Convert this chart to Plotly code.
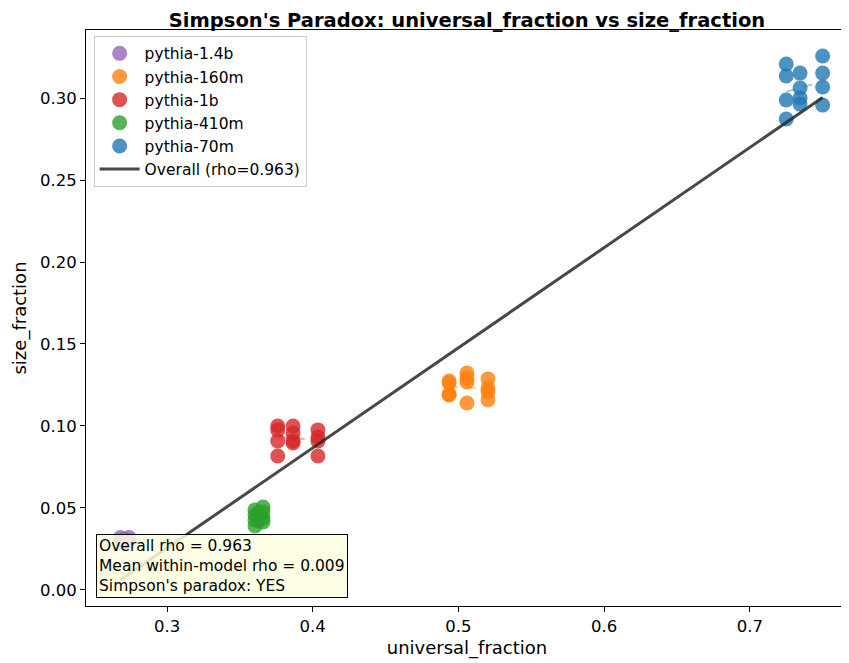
import numpy as np
import plotly.graph_objects as go

models = ["pythia-1.4b", "pythia-160m", "pythia-1b", "pythia-410m", "pythia-70m"]
colors = ["#9467bd", "#ff7f0e", "#d62728", "#2ca02c", "#1f77b4"]

x_14b = [0.268, 0.268, 0.268, 0.271, 0.271, 0.271, 0.274, 0.274, 0.274]
y_14b = [0.032, 0.030, 0.029, 0.031, 0.030, 0.029, 0.032, 0.030, 0.029]

x_160m = [0.4936, 0.4936, 0.4936, 0.4936, 0.5059, 0.5059, 0.5059, 0.5059, 0.5203, 0.5203, 0.5203, 0.5203]
y_160m = [0.1274, 0.1262, 0.1195, 0.1189, 0.1323, 0.1293, 0.1268, 0.1140, 0.1287, 0.1232, 0.1207, 0.1159]

x_1b = [0.376, 0.376, 0.376, 0.376, 0.3865, 0.3865, 0.3865, 0.3865, 0.4036, 0.4036, 0.4036, 0.4036]
y_1b = [0.1000, 0.0976, 0.0909, 0.0817, 0.1000, 0.0957, 0.0909, 0.0896, 0.0976, 0.0933, 0.0909, 0.0817]

x_410m = [0.3604, 0.3604, 0.3604, 0.3604, 0.3630, 0.3630, 0.3659, 0.3659, 0.3659, 0.3659]
y_410m = [0.0488, 0.0457, 0.0427, 0.0390, 0.0470, 0.0420, 0.0506, 0.0476, 0.0439, 0.0415]

x_70m = [0.725, 0.725, 0.725, 0.725, 0.7345, 0.7345, 0.7345, 0.7345, 0.750, 0.750, 0.750, 0.750]
y_70m = [0.3207, 0.3134, 0.2988, 0.2872, 0.3152, 0.3061, 0.3000, 0.2963, 0.3256, 0.3152, 0.3067, 0.2957]

xs = [x_14b, x_160m, x_1b, x_410m, x_70m]
ys = [y_14b, y_160m, y_1b, y_410m, y_70m]

annotation_lines = ["Overall rho = 0.963", "Mean within-model rho = 0.009", "Simpson's paradox: YES"]
overall_label = "Overall (rho=0.963)"

def rgba(hexc, a):
    h = hexc.lstrip("#")
    return f"rgba({int(h[0:2],16)},{int(h[2:4],16)},{int(h[4:6],16)},{a})"

fig = go.Figure()

# within-model fits (faint dashed)
for m, c, x, y in zip(models, colors, xs, ys):
    b, a = np.polyfit(x, y, 1)
    xx = np.array([min(x), max(x)])
    fig.add_trace(go.Scatter(x=xx, y=a + b * xx, mode="lines",
                             line=dict(color=rgba(c, 0.4), width=2, dash="dash"),
                             showlegend=False, hoverinfo="skip"))

for m, c, x, y in zip(models, colors, xs, ys):
    fig.add_trace(go.Scatter(x=x, y=y, mode="markers", name=m,
                             marker=dict(color=rgba(c, 0.8), size=15, line=dict(width=0))))

allx = np.concatenate([np.array(v) for v in xs])
ally = np.concatenate([np.array(v) for v in ys])
b, a = np.polyfit(allx, ally, 1)
lx = np.array([allx.min(), allx.max()])
fig.add_trace(go.Scatter(x=lx, y=a + b * lx, mode="lines", name=overall_label,
                         line=dict(color="rgba(40,40,40,0.85)", width=3)))

axis_common = dict(showline=True, linecolor="black", linewidth=1, mirror=True,
                   ticks="outside", ticklen=5, tickcolor="black", showgrid=False,
                   zeroline=False, tickfont=dict(size=16.5, color="black"))

fig.update_layout(
    width=841, height=655,
    margin=dict(l=78, r=1, t=22, b=57),
    plot_bgcolor="white", paper_bgcolor="white",
    font=dict(family="DejaVu Sans", color="black"),
    title=dict(text="<b>Simpson's Paradox: universal_fraction vs size_fraction</b>",
               x=0.5, xref="paper", xanchor="center", y=0.981, yanchor="middle",
               font=dict(size=19.5, color="black")),
    xaxis=dict(range=[0.2444, 0.7674], tickvals=[0.3, 0.4, 0.5, 0.6, 0.7],
               ticktext=["0.3", "0.4", "0.5", "0.6", "0.7"],
               title=dict(text="universal_fraction", font=dict(size=18), standoff=6), **axis_common),
    yaxis=dict(range=[-0.0098, 0.3415], tickvals=[0, 0.05, 0.1, 0.15, 0.2, 0.25, 0.3],
               ticktext=["0.00", "0.05", "0.10", "0.15", "0.20", "0.25", "0.30"],
               title=dict(text="size_fraction", font=dict(size=18), standoff=8), **axis_common),
    legend=dict(x=0.01, y=0.99, xanchor="left", yanchor="top",
                bgcolor="rgba(255,255,255,0.8)", bordercolor="#cccccc", borderwidth=1,
                font=dict(size=15.5), tracegroupgap=0, itemwidth=40),
    showlegend=True,
)

fig.add_annotation(xref="paper", yref="paper", x=0.013, y=0.014, xanchor="left", yanchor="bottom",
                   text="<br>".join(annotation_lines), showarrow=False, align="left",
                   font=dict(size=15.5, color="black"),
                   bgcolor="rgba(255,255,224,0.85)", bordercolor="black", borderwidth=1, borderpad=2)

fig.write_html("out.html")
